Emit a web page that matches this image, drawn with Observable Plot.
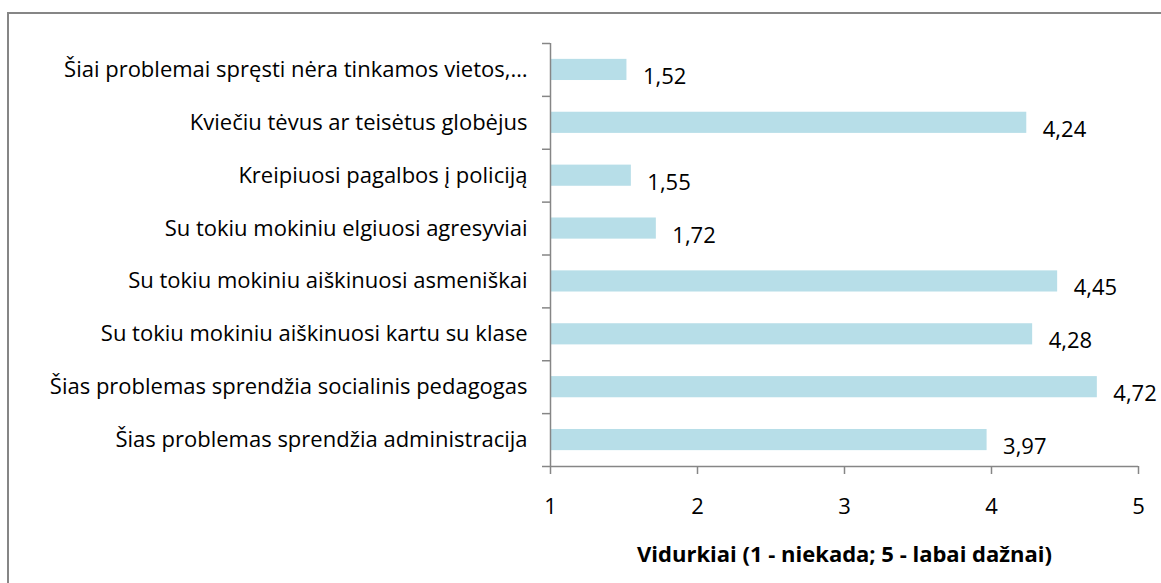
<!DOCTYPE html>
<html>
<head>
<meta charset="utf-8">
<script src="https://cdn.jsdelivr.net/npm/d3@7"></script>
<script src="https://cdn.jsdelivr.net/npm/@observablehq/plot@0.6"></script>
<style>
  html, body { margin: 0; padding: 0; background: #fff; overflow: hidden; }
  #wrap { position: relative; width: 1161px; height: 583px; overflow: hidden; }
  #border { position: absolute; left: 7px; top: 12px; width: 1200px; height: 620px; border: 2px solid #868686; box-sizing: border-box; pointer-events: none; }
  svg { font-family: "Open Sans", Lato, sans-serif; color: #000; }
  svg g[aria-label="x-axis label"] text { font-weight: bold; }
</style>
</head>
<body>
<div id="wrap"><div id="border"></div></div>
<script>
const categories = [
  "Šiai problemai spręsti nėra tinkamos vietos,…",
  "Kviečiu tėvus ar teisėtus globėjus",
  "Kreipiuosi pagalbos į policiją",
  "Su tokiu mokiniu elgiuosi agresyviai",
  "Su tokiu mokiniu aiškinuosi asmeniškai",
  "Su tokiu mokiniu aiškinuosi kartu su klase",
  "Šias problemas sprendžia socialinis pedagogas",
  "Šias problemas sprendžia administracija"
];
const values = [1.52, 4.24, 1.55, 1.72, 4.45, 4.28, 4.72, 3.97];
const xTicks = [1, 2, 3, 4, 5];
const xTitle = "Vidurkiai (1 - niekada; 5 - labai dažnai)";

const data = categories.map((c, i) => ({category: c, value: values[i], idx: i}));
const n = categories.length;
const fmt = v => v.toFixed(2).replace(".", ",");
const axisColor = "#868686";
const fs = 22;

const chart = Plot.plot({
  width: 1161,
  height: 583,
  marginLeft: 550,
  marginRight: 23,
  marginTop: 43,
  marginBottom: 117,
  style: {fontSize: fs + "px", background: "transparent"},
  x: {domain: [1, 5]},
  y: {domain: [0, n], reverse: true},
  marks: [
    Plot.rectX(data, {x1: 1, x2: "value", y1: d => d.idx + 0.3, y2: d => d.idx + 0.7, fill: "#B7DEE8"}),
    Plot.text(data, {x: "value", y: d => d.idx + 0.5, text: d => fmt(d.value), textAnchor: "start", dx: 16, dy: 7, fill: "#000", fontSize: fs}),
    Plot.ruleX([1], {y1: 0, y2: n, stroke: axisColor, strokeWidth: 1.5}),
    Plot.ruleY([n], {stroke: axisColor, strokeWidth: 1.5}),
    Plot.axisY(d3.range(n + 1), {tickSize: 8, tickFormat: () => "", stroke: axisColor, strokeWidth: 1.5, strokeOpacity: 1}),
    Plot.axisY(d3.range(n).map(i => i + 0.5), {tickSize: 0, tickPadding: 23, tickFormat: t => categories[Math.floor(t)], fill: "#000", fontSize: fs}),
    Plot.axisX(xTicks, {tickSize: 8, tickPadding: 24, tickFormat: d => String(d), stroke: axisColor, strokeWidth: 1.5, strokeOpacity: 1, fill: "#000", fontSize: fs,
      label: xTitle, labelAnchor: "center", labelArrow: "none", labelOffset: 95})
  ]
});
document.getElementById("wrap").prepend(chart);
</script>
</body>
</html>
